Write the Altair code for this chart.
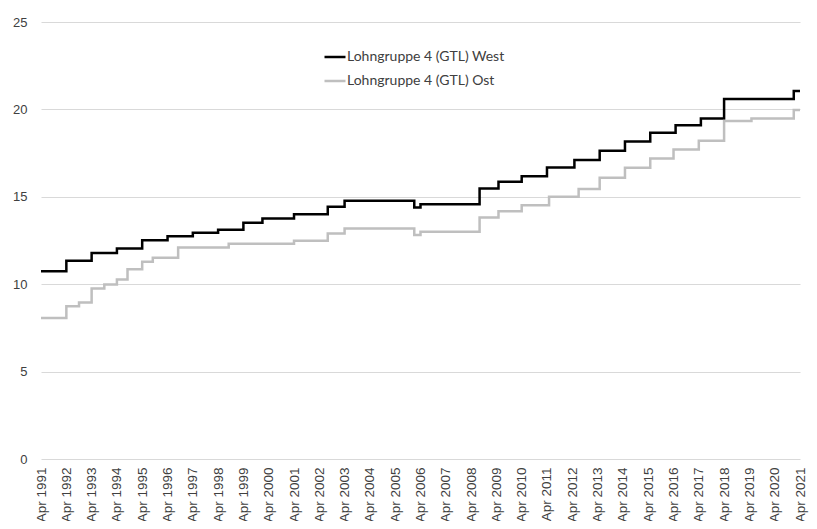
import altair as alt
import pandas as pd

series_names = ["Lohngruppe 4 (GTL) West", "Lohngruppe 4 (GTL) Ost"]
series_colors = ["#000000", "#BFBFBF"]

west_dates = ["1991/04/01", "1992/04/01", "1993/04/01", "1994/04/01", "1995/04/01",
              "1996/04/01", "1997/04/01", "1998/04/01", "1999/04/01", "2000/01/01",
              "2001/04/01", "2002/08/01", "2003/04/01", "2006/01/01", "2006/04/01",
              "2008/08/01", "2009/05/01", "2010/04/01", "2011/04/01", "2012/05/01",
              "2013/05/01", "2014/05/01", "2015/05/01", "2016/05/01", "2017/05/01",
              "2018/04/01", "2021/01/01", "2021/04/01"]
west_values = [10.74, 11.34, 11.79, 12.04, 12.52,
               12.75, 12.94, 13.12, 13.51, 13.76,
               14.00, 14.43, 14.77, 14.39, 14.58,
               15.48, 15.86, 16.18, 16.68, 17.10,
               17.63, 18.17, 18.66, 19.10, 19.48,
               20.59, 21.05, 21.05]

ost_dates = ["1991/04/01", "1992/04/01", "1992/10/01", "1993/04/01", "1993/10/01",
             "1994/04/01", "1994/09/01", "1995/04/01", "1995/09/01", "1996/09/01",
             "1998/09/01", "2001/04/01", "2002/08/01", "2003/04/01", "2006/01/01",
             "2006/04/01", "2008/08/01", "2009/05/01", "2010/04/01", "2011/05/01",
             "2012/07/01", "2013/05/01", "2014/05/01", "2015/05/01", "2016/04/01",
             "2017/04/01", "2018/04/01", "2019/05/01", "2021/01/01", "2021/04/01"]
ost_values = [8.07, 8.74, 8.95, 9.75, 9.98,
              10.27, 10.86, 11.28, 11.51, 12.10,
              12.31, 12.48, 12.90, 13.19, 12.81,
              13.00, 13.82, 14.18, 14.52, 15.00,
              15.44, 16.09, 16.66, 17.19, 17.71,
              18.21, 19.33, 19.48, 19.96, 19.96]

tick_years = list(range(1991, 2022))
y_ticks = [0, 5, 10, 15, 20, 25]

df = pd.concat([
    pd.DataFrame({"date": west_dates, "value": west_values, "series": series_names[0]}),
    pd.DataFrame({"date": ost_dates, "value": ost_values, "series": series_names[1]}),
])

axis_font = "Liberation Sans"
label_color = "#404040"
grid_color = "#D9D9D9"

chart = alt.Chart(df).mark_line(interpolate="step-after", strokeWidth=2.5).encode(
    x=alt.X(
        "date:T",
        scale=alt.Scale(domain=[alt.DateTime(year=1991, month=4, date=1),
                                alt.DateTime(year=2021, month=4, date=1)]),
        axis=alt.Axis(
            values=[alt.DateTime(year=y, month=4, date=1) for y in tick_years],
            format="%b %Y", labelAngle=-90, grid=False, ticks=False, domain=False,
            title=None, labelFont=axis_font, labelFontSize=13.5, labelColor=label_color,
            labelPadding=8, labelOverlap=False, labelFlush=False,
        ),
    ),
    y=alt.Y(
        "value:Q",
        scale=alt.Scale(domain=[0, 25], nice=False),
        axis=alt.Axis(
            values=y_ticks, grid=True, gridColor=grid_color, gridWidth=1,
            ticks=False, domain=False, title=None, labelFont=axis_font,
            labelFontSize=13, labelColor=label_color, labelPadding=14,
        ),
    ),
    color=alt.Color(
        "series:N",
        scale=alt.Scale(domain=series_names, range=series_colors),
        sort=series_names,
        legend=alt.Legend(
            title=None, orient="none", legendX=282, legendY=23,
            symbolType="stroke", symbolSize=441, symbolStrokeWidth=2.5,
            labelFont="Lato", labelFontSize=14, labelColor=label_color,
            labelOffset=0, rowPadding=5, padding=0,
        ),
    ),
).properties(
    width=759,
    height=437,
    autosize=alt.AutoSizeParams(type="none"),
    padding={"left": 33, "top": 14, "right": 9, "bottom": 62},
).configure_view(stroke=None)

chart.save("out.html", embed_options={"renderer": "svg", "actions": False})
